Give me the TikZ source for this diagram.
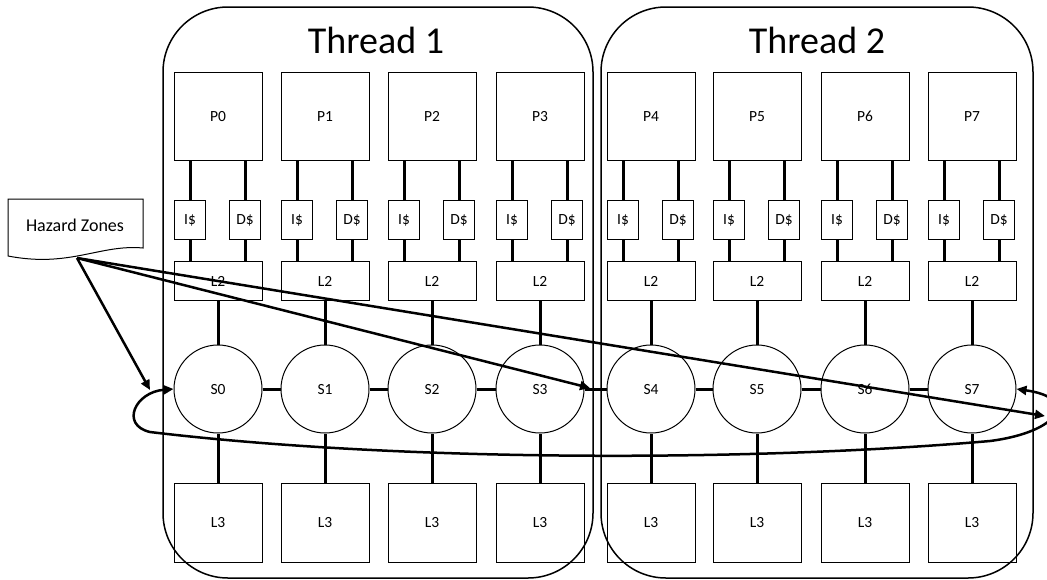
\documentclass[tikz,border=0pt]{standalone}
\usepackage{fontspec}
\setmainfont{Carlito}
\usetikzlibrary{arrows.meta}

\tikzset{
  unit/.style={rectangle, draw, line width=1pt, inner sep=0pt,
          minimum width=88pt, text height=10pt, text depth=0pt,
          font=\fontsize{15.5}{18}\selectfont},
  proc/.style={unit, minimum height=88pt},
  cache/.style={unit, minimum width=31pt, minimum height=39pt},
  ltwo/.style={unit, minimum height=39pt},
  lthree/.style={unit, minimum height=79pt},
  switch/.style={circle, draw, line width=1pt, inner sep=0pt,
          minimum size=88pt, text height=10pt, text depth=0pt,
          font=\fontsize{15.5}{18}\selectfont},
  thread/.style={rectangle, draw, rounded corners=65pt, line width=1.5pt,
          minimum height=571pt},
  title/.style={font=\fontsize{38}{42}\selectfont},
  wire/.style={line width=3pt},
  hzarrow/.style={line width=2.5pt, -{Triangle[length=10pt,width=9pt]}}
}

\begin{document}
\begin{tikzpicture}[x=1pt,y=-1pt]
\useasboundingbox (0,0) rectangle (1047,579);

\node[thread, minimum width=430pt] (thr1) at (378,292.5) {};
\node[thread, minimum width=432pt] (thr2) at (817,292.5) {};
\node[title] (title1) at (376,40) {Thread 1};
\node[title] (title2) at (817,40) {Thread 2};

\foreach \i/\x in {0/218,1/325,2/432,3/540,4/651,5/757,6/865,7/972}{
  \node[proc] (P\i) at (\x,116) {P\i};
  \node[cache] (I\i) at (\x-28,219.5) {I\$};
  \node[cache] (D\i) at (\x+27,219.5) {D\$};
  \node[ltwo] (L\i) at (\x,281) {L2};
  \node[switch] (S\i) at (\x,389) {S\i};
  \node[lthree] (M\i) at (\x,522.5) {L3};
  \draw[wire] (I\i.north) -- (I\i.north |- P\i.south)
              (D\i.north) -- (D\i.north |- P\i.south)
              (I\i.south) -- (I\i.south |- L\i.north)
              (D\i.south) -- (D\i.south |- L\i.north)
              (L\i) -- (S\i) (S\i) -- (M\i);
}
\foreach \i [count=\j] in {0,...,6}
  \draw[wire] (S\i) -- (S\j);

% hazard note
\draw[line width=1pt] (8,199) -- (143,199) -- (143,248)
      .. controls (100,244) and (70,268) .. (8,256) -- cycle;
\node[font=\fontsize{18}{20}\selectfont] (hazard) at (75,225) {Hazard Zones};
\coordinate (hzd) at (77,258);
\coordinate (hz1) at (150,390);
\coordinate (hz2) at (590,388);
\coordinate (hz3) at (1045,416);
\draw[hzarrow] (hzd) -- (hz1);
\draw[hzarrow] (hzd) -- (hz2);
\draw[hzarrow] (hzd) -- (hz3);

% ring back from S7 to S0
\draw[line width=2.5pt, {Triangle[length=10pt,width=9pt]}-{Triangle[length=10pt,width=9pt]}]
      (S0.west) .. controls (135,392) and (120,425) .. (150,432)
      .. controls (400,462) and (750,462) .. (990,441)
      .. controls (1060,432) and (1080,398) .. (S7.east);
\end{tikzpicture}
\end{document}
